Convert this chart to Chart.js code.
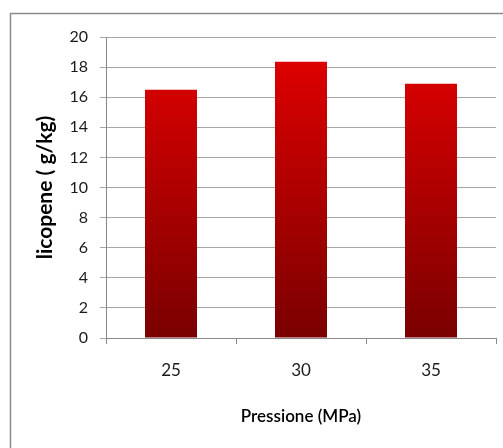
<!DOCTYPE html>
<html>
<head>
<meta charset="utf-8">
<script src="https://cdn.jsdelivr.net/npm/chart.js@4"></script>
<style>
html,body{margin:0;padding:0;background:#fff;}
#c{display:block;}
</style>
</head>
<body>
<canvas id="c" width="503" height="448"></canvas>
<script>
var categories = ['25', '30', '35'];
var values = [16.5, 18.35, 16.9];
var yTicks = [0, 2, 4, 6, 8, 10, 12, 14, 16, 18, 20];

var frame = {
  id: 'frame',
  beforeDraw: function(chart) {
    var c = chart.ctx;
    c.save();
    c.fillStyle = '#fff';
    c.fillRect(0, 0, chart.width, chart.height);
    c.strokeStyle = '#8a8a8a';
    c.lineWidth = 1.5;
    c.strokeRect(10.5, 13.5, 700, 700);
    c.restore();
  }
};

function barFill(context) {
  var chart = context.chart;
  var area = chart.chartArea;
  if (!area) return '#c00000';
  var g = chart.ctx.createLinearGradient(0, area.bottom, 0, area.top + 25);
  g.addColorStop(0, '#7a0000');
  g.addColorStop(1, '#dc0000');
  return g;
}

var ctx = document.getElementById('c').getContext('2d');
var mychart = new Chart(ctx, {
  type: 'bar',
  data: {
    labels: categories,
    datasets: [{
      label: 'licopene',
      data: values,
      backgroundColor: barFill,
      borderWidth: 0,
      barPercentage: 0.8,
      categoryPercentage: 0.5
    }]
  },
  options: {
    responsive: false,
    animation: false,
    layout: { padding: { top: 37, right: 7, left: 0, bottom: 0 } },
    plugins: { legend: { display: false }, tooltip: { enabled: false } },
    scales: {
      x: {
        afterFit: function(s) { s.height = 110; },
        grid: { drawOnChartArea: false, color: '#8a8a8a', tickLength: 6 },
        border: { color: '#8a8a8a' },
        ticks: { color: '#1a1a1a', padding: 16, font: { family: 'Lato', size: 17 } },
        title: {
          display: true, text: 'Pressione (MPa)', color: '#000',
          font: { family: 'Lato', size: 17, weight: '600' },
          padding: { bottom: 21 }
        }
      },
      y: {
        min: 0, max: 20,
        afterFit: function(s) { s.width = 106; },
        afterBuildTicks: function(s) { s.ticks = yTicks.map(function(v) { return { value: v }; }); },
        grid: { color: '#a6a6a6', tickLength: 6 },
        border: { color: '#8a8a8a' },
        ticks: { color: '#1a1a1a', padding: 12, font: { family: 'Lato', size: 16 } },
        title: {
          display: true, text: 'licopene ( g/kg)', color: '#000',
          font: { family: 'Lato', size: 21, weight: 'bold' },
          padding: { top: 33 }
        }
      }
    }
  },
  plugins: [frame]
});
</script>
</body>
</html>
